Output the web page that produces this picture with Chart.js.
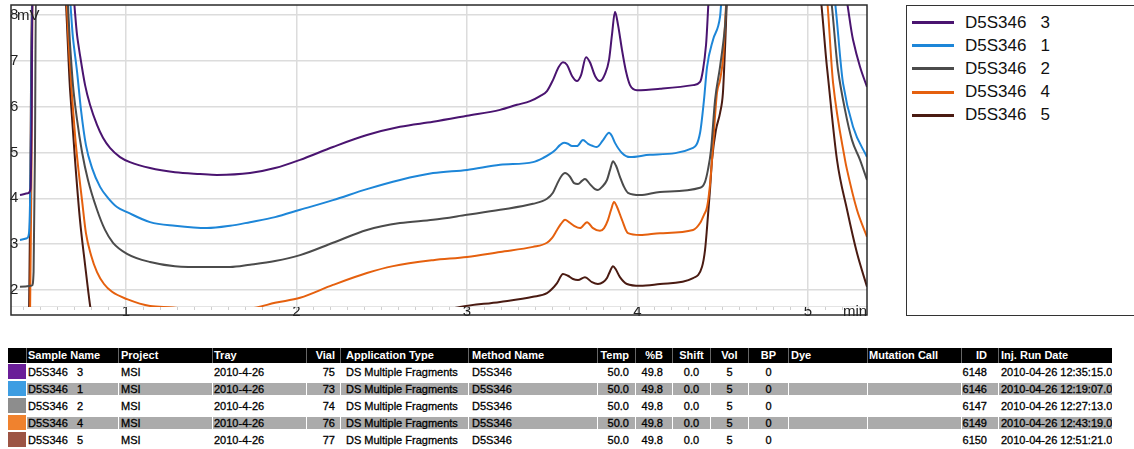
<!DOCTYPE html>
<html>
<head>
<meta charset="utf-8">
<script src="https://cdn.jsdelivr.net/npm/chart.js@4.4.1/dist/chart.umd.min.js"></script>
<style>
  html, body { margin: 0; padding: 0; background: #fff; width: 1134px; height: 449px; overflow: hidden;
    font-family: "Liberation Sans", Arial, sans-serif; }
  #plot { position: absolute; left: 0; top: 0; width: 880px; height: 325px; }
  #legend { position: absolute; left: 906px; top: 5px; width: 240px; height: 311px; border: 1px solid #333;
    box-sizing: border-box; }
  #legend .item { position: absolute; left: 5px; height: 20px; display: flex; align-items: center; }
  #legend .line { width: 42px; height: 3px; margin-right: 11px; }
  #legend .lbl { font-size: 17px; color: #111; white-space: pre; }
  #runs { position: absolute; left: 8px; top: 348px; width: 1104px; table-layout: fixed;
    border-collapse: separate; border-spacing: 0; font-size: 11px; color: #000; }
  #runs th { background: #000; color: #fff; font-weight: bold; height: 15px; padding-top: 0; padding-bottom: 0;
    white-space: pre; overflow: hidden; border-left: 1px solid #666; box-sizing: border-box; line-height: 15px; }
  #runs td { height: 12px; line-height: 12px; padding-top: 0; padding-bottom: 0; white-space: pre; overflow: hidden;
    border-left: 1px solid #fff; border-top: 3px solid #fff; border-bottom: 2px solid #fff; box-sizing: content-box;
    -webkit-text-stroke: 0.3px #000; }
  #runs tr.alt td { background: #ababab; }
  #runs td.sw { border-top-width: 1px; border-bottom-width: 1px; height: 15px; border-left: 0; }
  #runs th.sw { border-left: 0; }
</style>
</head>
<body>
<div id="plot"><canvas id="chart"></canvas></div>
<div id="legend"></div>
<table id="runs"><colgroup id="cols"></colgroup><thead><tr id="head"></tr></thead><tbody id="body"></tbody></table>
<script>
// Axis ticks
const xTicks = [1, 2, 3, 4, 5];
const yTicks = [2, 3, 4, 5, 6, 7, 8];

// Runs, in the order they are listed
const seriesNames = ['D5S346   3', 'D5S346   1', 'D5S346   2', 'D5S346   4', 'D5S346   5'];
const seriesColors = ['#4a1470', '#1d86d8', '#4b4b4b', '#e5600e', '#4a1b12'];
const swatchColors = ['#6a1e98', '#3d9de2', '#8d8d8d', '#f0822e', '#9c5444'];

// Chromatogram traces: retention time (min) and signal (mV); 8.6 means off the top of the window
const time3 = [0.378, 0.425, 0.440, 0.446, 0.452, 0.683, 0.713, 0.730, 0.760, 0.789, 0.830, 0.865, 0.906, 0.965,
  1.023, 1.141, 1.287, 1.434, 1.534, 1.727, 1.874, 2.021, 2.214, 2.413, 2.607, 2.801, 3.000, 3.194, 3.293, 3.370,
  3.428, 3.469, 3.504, 3.534, 3.563, 3.587, 3.616, 3.645, 3.669, 3.698, 3.721, 3.751, 3.780, 3.809, 3.833, 3.850,
  3.868, 3.886, 3.909, 3.933, 3.956, 3.997, 4.132, 4.326, 4.367, 4.384, 4.402, 4.425, 5.205, 5.264, 5.305, 5.346];
const mv3 = [4.07, 4.11, 4.20, 5.50, 8.60, 8.60, 7.56, 7.13, 6.47, 6.04, 5.60, 5.32, 5.10, 4.90,
  4.79, 4.66, 4.57, 4.53, 4.51, 4.55, 4.66, 4.84, 5.12, 5.38, 5.56, 5.67, 5.80, 5.93, 6.04, 6.12,
  6.23, 6.34, 6.58, 6.84, 6.97, 6.91, 6.67, 6.56, 6.69, 7.08, 6.97, 6.67, 6.56, 6.71, 7.02, 7.56,
  8.07, 7.78, 7.24, 6.76, 6.47, 6.36, 6.39, 6.47, 6.54, 6.80, 7.35, 8.60, 8.60, 7.46, 6.87, 6.43];

const time1 = [0.378, 0.419, 0.431, 0.440, 0.452, 0.662, 0.689, 0.713, 0.736, 0.765, 0.801, 0.848, 0.894, 0.947,
  1.006, 1.141, 1.287, 1.475, 1.610, 1.727, 1.874, 2.021, 2.214, 2.413, 2.607, 2.801, 3.000, 3.194, 3.387, 3.446,
  3.487, 3.516, 3.545, 3.569, 3.592, 3.616, 3.645, 3.680, 3.710, 3.739, 3.762, 3.798, 3.833, 3.850, 3.868, 3.909,
  3.956, 4.073, 4.326, 4.367, 4.390, 4.408, 4.443, 4.484, 4.500, 5.140, 5.205, 5.264, 5.346];
const mv1 = [3.09, 3.13, 3.24, 4.50, 8.60, 8.60, 7.50, 6.76, 5.93, 5.16, 4.66, 4.25, 4.01, 3.81,
  3.70, 3.48, 3.40, 3.35, 3.40, 3.48, 3.59, 3.75, 3.96, 4.20, 4.40, 4.55, 4.62, 4.73, 4.79, 4.88,
  4.97, 5.05, 5.16, 5.21, 5.19, 5.14, 5.14, 5.27, 5.19, 5.14, 5.12, 5.27, 5.43, 5.36, 5.21, 4.99,
  4.90, 4.95, 5.10, 5.43, 6.15, 6.87, 7.46, 7.96, 8.60, 8.60, 6.52, 5.56, 4.90];

const time2 = [0.378, 0.449, 0.458, 0.466, 0.472, 0.650, 0.672, 0.689, 0.713, 0.742, 0.777, 0.830, 0.877, 0.924,
  1.006, 1.141, 1.287, 1.475, 1.610, 1.727, 1.874, 2.021, 2.214, 2.413, 2.607, 2.801, 3.000, 3.194, 3.387, 3.469,
  3.504, 3.528, 3.551, 3.575, 3.604, 3.628, 3.651, 3.674, 3.692, 3.721, 3.751, 3.768, 3.792, 3.821, 3.839, 3.856,
  3.874, 3.897, 3.921, 3.944, 4.015, 4.132, 4.367, 4.396, 4.413, 4.431, 4.455, 4.484, 4.513, 4.530, 5.120, 5.176,
  5.217, 5.258, 5.305, 5.346];
const mv2 = [2.07, 2.10, 2.40, 5.00, 8.60, 8.60, 7.35, 6.47, 5.71, 5.01, 4.40, 3.75, 3.31, 3.03,
  2.79, 2.61, 2.52, 2.50, 2.50, 2.55, 2.63, 2.76, 3.03, 3.31, 3.46, 3.53, 3.64, 3.75, 3.88, 3.99,
  4.12, 4.31, 4.47, 4.55, 4.47, 4.33, 4.31, 4.38, 4.42, 4.31, 4.20, 4.18, 4.25, 4.40, 4.62, 4.81,
  4.71, 4.47, 4.25, 4.12, 4.07, 4.14, 4.23, 4.36, 4.62, 5.05, 6.15, 6.87, 7.74, 8.60, 8.60, 6.80,
  5.93, 5.27, 4.84, 4.40];

const time4 = [0.378, 0.437, 0.446, 0.452, 0.643, 0.666, 0.683, 0.701, 0.718, 0.742, 0.765, 0.795, 0.830, 0.871,
  0.918, 1.006, 1.141, 1.276, 1.450, 1.600, 1.768, 1.874, 2.021, 2.214, 2.413, 2.566, 2.801, 3.000, 3.194, 3.387,
  3.469, 3.498, 3.528, 3.551, 3.575, 3.598, 3.628, 3.663, 3.704, 3.739, 3.780, 3.804, 3.827, 3.845, 3.862, 3.880,
  3.909, 3.944, 4.015, 4.132, 4.326, 4.367, 4.390, 4.408, 4.425, 4.437, 4.466, 4.484, 4.501, 4.530, 5.100, 5.147,
  5.217, 5.229, 5.287, 5.346];
const mv4 = [1.35, 1.40, 5.00, 8.60, 8.60, 7.24, 6.25, 5.38, 4.73, 3.96, 3.24, 2.76, 2.39, 2.13,
  1.96, 1.80, 1.65, 1.62, 1.52, 1.53, 1.62, 1.72, 1.83, 2.11, 2.37, 2.52, 2.65, 2.72, 2.83, 2.94,
  3.03, 3.13, 3.31, 3.44, 3.53, 3.48, 3.40, 3.35, 3.48, 3.35, 3.29, 3.35, 3.53, 3.75, 3.92, 3.81,
  3.53, 3.24, 3.20, 3.24, 3.31, 3.46, 3.64, 3.81, 4.29, 4.84, 6.30, 6.58, 7.02, 8.60, 8.60, 6.52,
  4.84, 4.62, 3.75, 3.16];

const time5 = [0.378, 0.431, 0.440, 0.449, 0.637, 0.672, 0.701, 0.730, 0.760, 0.789, 0.812, 0.900, 1.500, 2.500,
  2.800, 2.959, 3.194, 3.387, 3.469, 3.498, 3.528, 3.563, 3.592, 3.622, 3.651, 3.692, 3.733, 3.768, 3.798, 3.821,
  3.839, 3.856, 3.874, 3.897, 3.938, 4.015, 4.132, 4.326, 4.378, 4.396, 4.408, 4.425, 4.437, 4.460, 4.484, 4.501,
  4.513, 4.530, 5.060, 5.111, 5.170, 5.229, 5.287, 5.346];
const mv5 = [1.30, 1.35, 5.00, 8.60, 8.60, 6.36, 4.84, 3.53, 2.55, 1.67, 1.13, 0.80, 0.90, 1.30,
  1.50, 1.63, 1.74, 1.85, 1.93, 2.02, 2.15, 2.35, 2.31, 2.24, 2.22, 2.28, 2.17, 2.13, 2.17, 2.26,
  2.41, 2.52, 2.44, 2.28, 2.13, 2.09, 2.13, 2.26, 2.50, 2.87, 3.37, 4.18, 4.84, 5.49, 5.86, 6.30,
  7.24, 8.60, 8.60, 6.87, 4.84, 3.75, 2.81, 2.07];

const seriesTimes = [time3, time1, time2, time4, time5];
const seriesValues = [mv3, mv1, mv2, mv4, mv5];

// Run table columns
const project = ['MSI', 'MSI', 'MSI', 'MSI', 'MSI'];
const tray = ['2010-4-26', '2010-4-26', '2010-4-26', '2010-4-26', '2010-4-26'];
const vial = [75, 73, 74, 76, 77];
const appType = ['DS Multiple Fragments', 'DS Multiple Fragments', 'DS Multiple Fragments', 'DS Multiple Fragments', 'DS Multiple Fragments'];
const methodName = ['D5S346', 'D5S346', 'D5S346', 'D5S346', 'D5S346'];
const temp = ['50.0', '50.0', '50.0', '50.0', '50.0'];
const pctB = ['49.8', '49.8', '49.8', '49.8', '49.8'];
const shift = ['0.0', '0.0', '0.0', '0.0', '0.0'];
const vol = [5, 5, 5, 5, 5];
const bp = [0, 0, 0, 0, 0];
const dye = ['', '', '', '', ''];
const mutationCall = ['', '', '', '', ''];
const runId = [6148, 6146, 6147, 6149, 6150];
const runDate = ['2010-04-26 12:35:15.0', '2010-04-26 12:19:07.0', '2010-04-26 12:27:13.0', '2010-04-26 12:43:19.0', '2010-04-26 12:51:21.0'];

// ---- chart ----
const X_MIN = 0.3255, X_MAX = 5.346, Y_MIN = 1.454, Y_MAX = 8.218;

const datasets = seriesNames.map((name, i) => ({
  label: name,
  data: seriesTimes[i].map((t, k) => ({ x: t, y: seriesValues[i][k] })),
  borderColor: seriesColors[i],
  backgroundColor: seriesColors[i],
  borderWidth: 2,
  pointRadius: 0,
  cubicInterpolationMode: 'monotone',
  clip: { left: 0, top: 0, right: 0, bottom: -8 }
}));

// Axes take no room of their own: labels sit inside the plotting frame
function zeroFit(scale) {
  if (scale.isHorizontal()) scale.height = 0; else scale.width = 0;
  scale.paddingTop = 0; scale.paddingBottom = 0; scale.paddingLeft = 0; scale.paddingRight = 0;
}

const framePlugin = {
  id: 'frame',
  afterDraw(chart) {
    const { ctx, chartArea: a, scales } = chart;
    ctx.save();
    ctx.strokeStyle = '#2a2a2a';
    ctx.lineWidth = 1.5;
    ctx.strokeRect(a.left, a.top, a.right - a.left, a.bottom - a.top);
    ctx.fillStyle = '#222';
    ctx.textBaseline = 'middle';
    ctx.textAlign = 'left';
    ctx.font = '15px "Liberation Sans", Arial, sans-serif';
    ctx.fillText('mV', a.left + 6, scales.y.getPixelForValue(8) + 1);
    ctx.fillText('min', a.right - 24, a.bottom - 3);
    ctx.restore();
  }
};

const tickFont = { family: '"Liberation Sans", Arial, sans-serif', size: 15 };

const chart = new Chart(document.getElementById('chart'), {
  type: 'line',
  data: { datasets },
  options: {
    responsive: true,
    maintainAspectRatio: false,
    animation: false,
    devicePixelRatio: 1,
    layout: { padding: { left: 11, top: 5, right: 13, bottom: 10 } },
    plugins: { legend: { display: false }, tooltip: { enabled: false } },
    scales: {
      x: {
        type: 'linear', position: 'bottom', min: X_MIN, max: X_MAX,
        afterBuildTicks: s => { s.ticks = xTicks.map(v => ({ value: v })); },
        afterFit: zeroFit,
        ticks: { mirror: true, padding: -6, color: '#222', font: tickFont, maxRotation: 0, autoSkip: false },
        grid: { color: '#dcdcdc', lineWidth: 1.5, drawTicks: false },
        border: { display: false }
      },
      xMinor: {
        type: 'linear', position: { y: 1.629 }, min: X_MIN, max: X_MAX,
        ticks: { display: false, stepSize: 0.1, includeBounds: false },
        grid: { drawOnChartArea: false, drawTicks: true, tickLength: 3, color: '#cfcfcf' },
        border: { display: true, color: '#e4e4e4', width: 1 }
      },
      y: {
        type: 'linear', position: 'left', min: Y_MIN, max: Y_MAX,
        afterBuildTicks: s => { s.ticks = yTicks.map(v => ({ value: v })); },
        afterFit: zeroFit,
        ticks: { mirror: true, padding: -1, color: '#222', font: tickFont },
        grid: { color: '#dcdcdc', lineWidth: 1.5, drawTicks: false },
        border: { display: false }
      }
    }
  },
  plugins: [framePlugin]
});

// ---- legend (built from the chart's datasets) ----
const legendBox = document.getElementById('legend');
chart.data.datasets.forEach((ds, i) => {
  const item = document.createElement('div');
  item.className = 'item';
  item.style.top = (6.5 + i * 23.2) + 'px';
  const line = document.createElement('div');
  line.className = 'line';
  line.style.background = ds.borderColor;
  const lbl = document.createElement('span');
  lbl.className = 'lbl';
  lbl.textContent = ds.label;
  item.appendChild(line);
  item.appendChild(lbl);
  legendBox.appendChild(item);
});

// ---- run table ----
const columns = [
  { head: '', w: 18 },
  { head: 'Sample Name', w: 92, align: 'left', pl: 1, get: i => seriesNames[i] },
  { head: 'Project', w: 94, align: 'left', pl: 2, get: i => project[i] },
  { head: 'Tray', w: 94, align: 'left', pl: 1, get: i => tray[i] },
  { head: 'Vial', w: 34, align: 'right', pr: 5, get: i => vial[i] },
  { head: 'Application Type', w: 128, align: 'left', pl: 5, get: i => appType[i] },
  { head: 'Method Name', w: 129, align: 'left', pl: 3, get: i => methodName[i] },
  { head: 'Temp', w: 38, align: 'right', pr: 6, get: i => temp[i] },
  { head: '%B', w: 37, align: 'right', pr: 9, get: i => pctB[i] },
  { head: 'Shift', w: 38, align: 'center', get: i => shift[i] },
  { head: 'Vol', w: 38, align: 'center', get: i => vol[i] },
  { head: 'BP', w: 40, align: 'center', get: i => bp[i] },
  { head: 'Dye', w: 79, align: 'left', pl: 2, get: i => dye[i] },
  { head: 'Mutation Call', w: 94, align: 'left', pl: 1, get: i => mutationCall[i] },
  { head: 'ID', w: 37, align: 'right', pr: 11, get: i => runId[i] },
  { head: 'Inj. Run Date', w: 114, align: 'left', pl: 2, get: i => runDate[i] }
];

const colgroup = document.getElementById('cols');
const headRow = document.getElementById('head');
columns.forEach((c, k) => {
  const col = document.createElement('col');
  col.style.width = c.w + 'px';
  colgroup.appendChild(col);
  const th = document.createElement('th');
  th.textContent = c.head;
  if (k === 0) th.className = 'sw';
  th.style.textAlign = c.align || 'left';
  th.style.paddingLeft = (c.pl || 0) + 'px';
  th.style.paddingRight = (c.pr || 0) + 'px';
  headRow.appendChild(th);
});

const tbody = document.getElementById('body');
seriesNames.forEach((name, i) => {
  const tr = document.createElement('tr');
  if (i % 2 === 1) tr.className = 'alt';
  columns.forEach((c, k) => {
    const td = document.createElement('td');
    if (k === 0) {
      td.className = 'sw';
      td.style.background = swatchColors[i];
    } else {
      td.textContent = String(c.get(i));
      td.style.textAlign = c.align;
      td.style.paddingLeft = (c.pl || 0) + 'px';
      td.style.paddingRight = (c.pr || 0) + 'px';
    }
    tr.appendChild(td);
  });
  tbody.appendChild(tr);
});
</script>
</body>
</html>
